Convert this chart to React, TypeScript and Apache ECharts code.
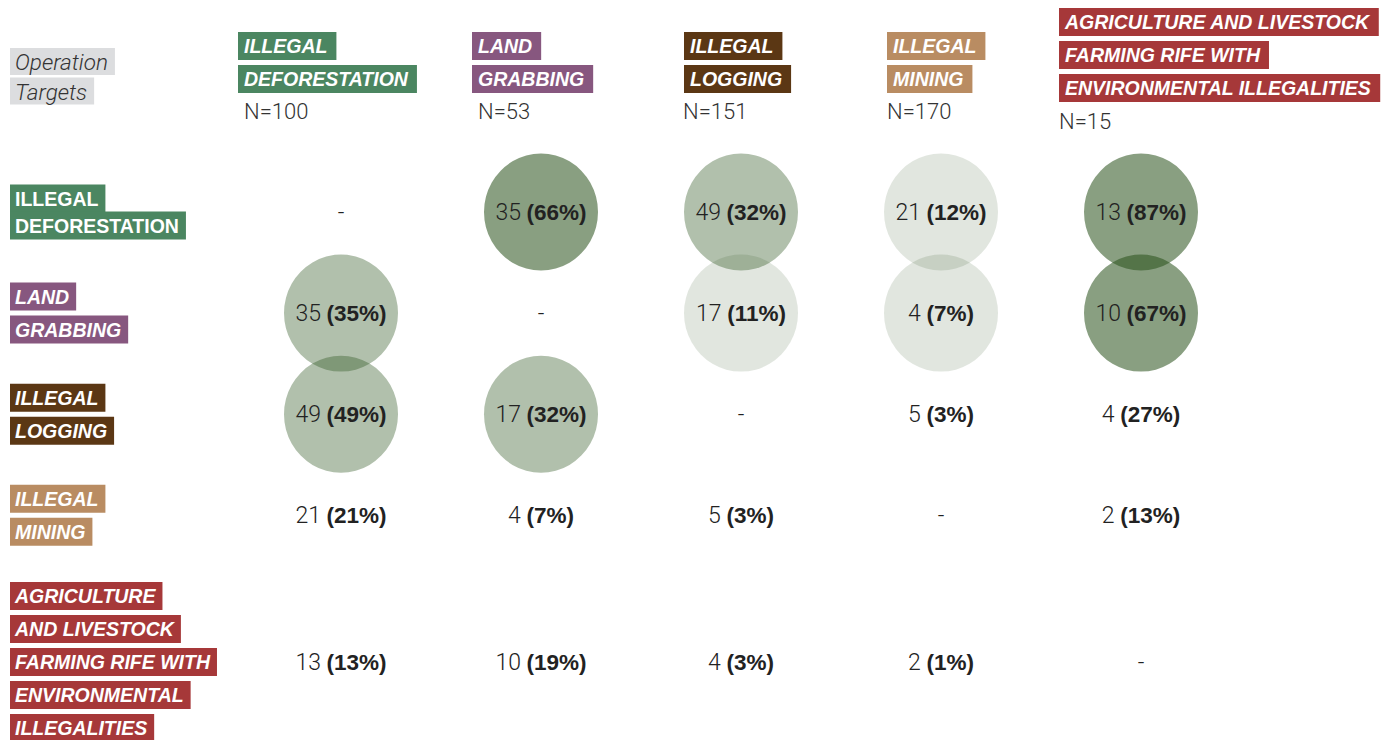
import React, { useEffect, useRef } from "react";
import * as echarts from "echarts";

// ---------- DATA ----------
// Columns: operation targets
const targetLabels = [
  "ILLEGAL\nDEFORESTATION",
  "LAND\nGRABBING",
  "ILLEGAL\nLOGGING",
  "ILLEGAL\nMINING",
  "AGRICULTURE AND LIVESTOCK\nFARMING RIFE WITH\nENVIRONMENTAL ILLEGALITIES",
];
const targetN = [100, 53, 151, 170, 15];

// Rows: other environmental crimes found
const crimeLabels = [
  "ILLEGAL\nDEFORESTATION",
  "LAND\nGRABBING",
  "ILLEGAL\nLOGGING",
  "ILLEGAL\nMINING",
  "AGRICULTURE\nAND LIVESTOCK\nFARMING RIFE WITH\nENVIRONMENTAL\nILLEGALITIES",
];

// counts / percentages per row (one value per operation-target column)
const countsDeforestation = [null, 35, 49, 21, 13];
const pctDeforestation = [null, 66, 32, 12, 87];
const countsLandGrabbing = [35, null, 17, 4, 10];
const pctLandGrabbing = [35, null, 11, 7, 67];
const countsLogging = [49, 17, null, 5, 4];
const pctLogging = [49, 32, null, 3, 27];
const countsMining = [21, 4, 5, null, 2];
const pctMining = [21, 7, 3, null, 13];
const countsAgriculture = [13, 10, 4, 2, null];
const pctAgriculture = [13, 19, 3, 1, null];

// highlighted circles: 0 none, 1 light, 2 medium, 3 dark
const circleDeforestation = [0, 3, 2, 1, 3];
const circleLandGrabbing = [2, 0, 1, 1, 3];
const circleLogging = [2, 2, 0, 0, 0];
const circleMining = [0, 0, 0, 0, 0];
const circleAgriculture = [0, 0, 0, 0, 0];

const counts = [countsDeforestation, countsLandGrabbing, countsLogging, countsMining, countsAgriculture];
const pcts = [pctDeforestation, pctLandGrabbing, pctLogging, pctMining, pctAgriculture];
const circles = [circleDeforestation, circleLandGrabbing, circleLogging, circleMining, circleAgriculture];

// ---------- STYLE / LAYOUT ----------
const crimeColors = ["#4b8661", "#87577f", "#5b3714", "#b98c62", "#a63839"];
const rowItalic = [false, true, true, true, true];
const ROW_POS = [0, 1, 2, 3, 4.45];
const levelColors = [
  "rgba(0,0,0,0)",
  "rgba(40,80,25,0.14)",
  "rgba(40,80,25,0.36)",
  "rgba(40,80,25,0.55)",
];
const HEADER_X = [238, 472, 684, 887, 1059];
const HEADER_TOP = [32, 32, 32, 32, 8];
const N_X = [244, 478, 683, 887, 1059];
const N_Y = [111, 111, 111, 111, 121];

export default function App() {
  const ref = useRef<HTMLDivElement>(null);

  useEffect(() => {
    if (!ref.current) return;
    const chart = echarts.init(ref.current, undefined, { renderer: "svg" });

    const circleData: any[] = [];
    const labelData: any[] = [];
    for (let r = 0; r < counts.length; r++) {
      for (let c = 0; c < targetLabels.length; c++) {
        const lvl = circles[r][c];
        if (lvl > 0) {
          circleData.push({
            value: [c, ROW_POS[r]],
            itemStyle: { color: levelColors[lvl], opacity: 1 },
          });
        }
        labelData.push({ value: [c, ROW_POS[r]], count: counts[r][c], pct: pcts[r][c] });
      }
    }

    chart.setOption({
      animation: false,
      grid: { left: 241, top: 212, width: 1000, height: 450 },
      xAxis: {
        type: "value",
        min: -0.5,
        max: 4.5,
        show: false,
      },
      yAxis: {
        type: "value",
        min: 0,
        max: 4.45,
        inverse: true,
        show: false,
      },
      series: [
        {
          type: "scatter",
          symbol: "circle",
          symbolSize: [114, 117],
          silent: true,
          itemStyle: { opacity: 1 },
          data: circleData,
          z: 2,
        },
        {
          type: "scatter",
          symbolSize: 1,
          silent: true,
          itemStyle: { color: "rgba(0,0,0,0)", opacity: 1 },
          z: 3,
          data: labelData,
          label: {
            show: true,
            position: "inside",
            formatter: (p: any) => {
              const d = p.data;
              if (d.count == null) return "{n|-}";
              return `{n|${d.count} }{p|(${d.pct}%)}`;
            },
            rich: {
              n: {
                fontFamily: "Roboto",
                fontWeight: 300,
                fontSize: 23,
                color: "#222",
              },
              p: {
                fontFamily: "Liberation Sans",
                fontWeight: "bold",
                fontSize: 22.5,
                color: "#222",
              },
            },
          },
        },
      ],
    });

    const graphic: any[] = [];
    // Operation Targets tag
    ["Operation", "Targets"].forEach((t, i) => {
      graphic.push({
        type: "text",
        x: 10,
        y: 48 + i * 29.5,
        silent: true,
        style: {
          text: t,
          fill: "#333",
          fontSize: 22.5,
          fontStyle: "italic",
          fontWeight: 300,
          fontFamily: "Roboto",
          backgroundColor: "#dcdddf",
          padding: [2, 7, 1, 5],
          lineHeight: 24,
        },
      });
    });

    // Column headers
    targetLabels.forEach((lab, c) => {
      lab.split("\n").forEach((line, i) => {
        graphic.push({
          type: "text",
          x: HEADER_X[c],
          y: HEADER_TOP[c] + i * 33,
          silent: true,
          style: {
            text: line,
            fill: "#fff",
            fontSize: 19.5,
            fontWeight: "bold",
            fontStyle: "italic",
            fontFamily: "Liberation Sans",
            backgroundColor: crimeColors[c],
            padding: [4, 9, 4, 6],
            lineHeight: 20,
          },
        });
      });
      graphic.push({
        type: "text",
        x: N_X[c],
        y: N_Y[c],
        silent: true,
        style: {
          text: `N=${targetN[c]}`,
          fill: "#333",
          fontSize: 22,
          fontWeight: 300,
          fontFamily: "Roboto",
          verticalAlign: "middle",
          textVerticalAlign: "middle",
        },
      });
    });

    // Row labels, centred on the rows through the y scale
    crimeLabels.forEach((lab, r) => {
      const cy = chart.convertToPixel({ gridIndex: 0 }, [0, ROW_POS[r]])[1];
      const lines = lab.split("\n");
      const pitch = rowItalic[r] ? 33 : 27;
      const total = (lines.length - 1) * pitch + 28;
      const top = cy - total / 2;
      lines.forEach((line, i) => {
        graphic.push({
          type: "text",
          x: 10,
          y: top + i * pitch,
          silent: true,
          style: {
            text: line,
            fill: "#fff",
            fontSize: 19.5,
            fontWeight: "bold",
            fontStyle: rowItalic[r] ? "italic" : "normal",
            fontFamily: "Liberation Sans",
            backgroundColor: crimeColors[r],
            padding: [4, 7, 4, 5],
            lineHeight: 20,
          },
        });
      });
    });

    chart.setOption({ graphic });

    return () => chart.dispose();
  }, []);

  return (
    <div
      ref={ref}
      style={{ position: "absolute", left: 0, top: 0, width: 1395, height: 740, background: "#fff" }}
    />
  );
}
